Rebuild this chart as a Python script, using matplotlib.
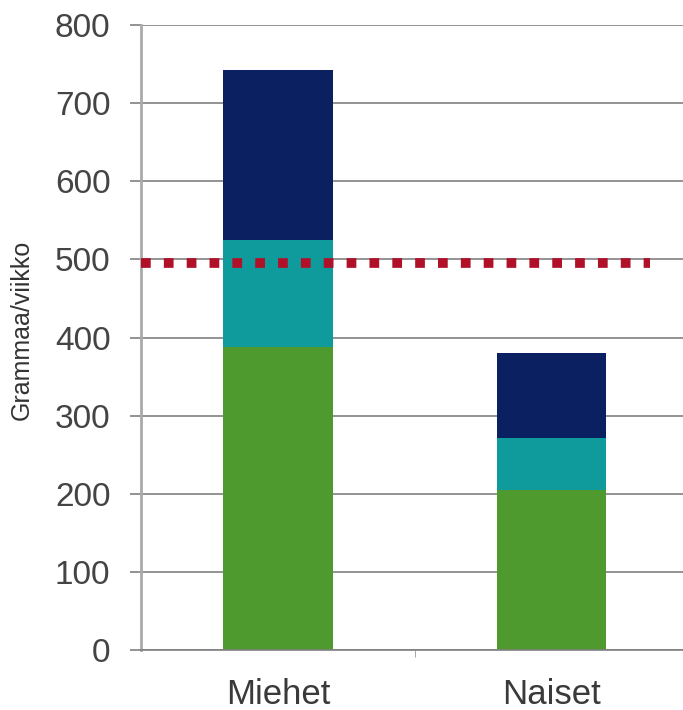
import matplotlib.pyplot as plt

# Data
categories = ['Miehet', 'Naiset']
green = [388, 205]
teal = [137, 66]
navy = [217, 109]
limit = 495

colors = ['#4f9a2f', '#0f9a9c', '#0a2060']

plt.rcParams['font.family'] = ['Liberation Sans', 'DejaVu Sans']

fig = plt.figure(figsize=(6.83, 7.10), dpi=100)
ax = fig.add_axes([141 / 683, 60 / 710, 1 - 141 / 683, 625 / 710])

x = list(range(len(categories)))
bottom2 = [g + t for g, t in zip(green, teal)]
ax.bar(x, green, width=0.4, color=colors[0], zorder=2)
ax.bar(x, teal, width=0.4, bottom=green, color=colors[1], zorder=2)
ax.bar(x, navy, width=0.4, bottom=bottom2, color=colors[2], zorder=2)

# red dotted reference line
ax.hlines(limit, -0.5, 1.36, colors='#b01028', linewidth=7,
          linestyles=(0, (1, 1.35)), zorder=3)

ax.set_xlim(-0.5, 1.48)
ax.set_ylim(0, 800)
ax.set_yticks(range(0, 801, 100))
ax.yaxis.grid(True, color='#808080', linewidth=1.2, zorder=1)
ax.set_xticks(x)
ax.set_xticklabels(categories, fontsize=25, color='#3a3a3a')
ax.tick_params(axis='x', length=0, pad=20)
ax.tick_params(axis='y', labelsize=24, labelcolor='#444444', length=8,
               color='#808080', width=1.2, pad=14)
ax.set_xticks([0.5], minor=True)
ax.tick_params(axis='x', which='minor', length=5, color='#999999')

for s in ['top', 'right']:
    ax.spines[s].set_visible(False)
ax.spines['left'].set_color('#aaaaaa')
ax.spines['left'].set_linewidth(2)
ax.spines['bottom'].set_color('#808080')
ax.spines['bottom'].set_linewidth(1.2)

ax.set_ylabel('Grammaa/viikko', fontsize=18, color='#333333', va='center')
ax.yaxis.set_label_coords(22 / 683, 1 - 330 / 710, transform=fig.transFigure)

fig.savefig('out.png', dpi=100)
